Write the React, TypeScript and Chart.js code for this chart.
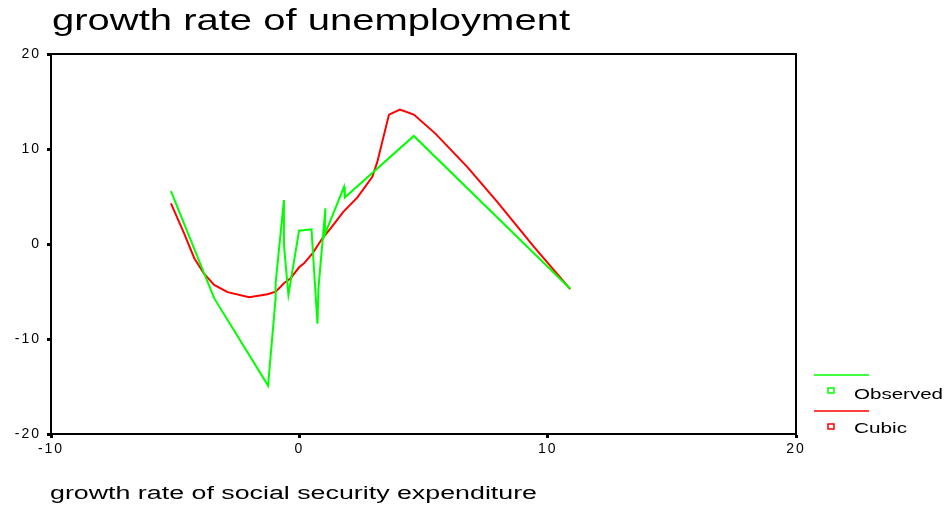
import React, { useEffect, useRef } from "react";
import { Chart, registerables } from "chart.js";

Chart.register(...registerables);

const titleText = "growth rate of unemployment";
const xAxisTitle = "growth rate of social security expenditure";
const legendLabels = ["Observed", "Cubic"];

const observedX = [-5.17, -3.43, -1.26, -0.96, -0.955, -0.62, -0.62, -0.44, -0.01, 0.49, 0.73, 0.77, 1.05, 1.02, 1.8, 1.83, 4.61, 10.91];
const observedY = [5.56, -5.7, -14.91, -5.88, -4.13, 4.62, -0.1, -5.35, 1.4, 1.54, -8.4, -4.65, 3.75, 0.95, 6.02, 4.9, 11.37, -4.72];

const cubicX = [-5.17, -4.64, -4.23, -3.83, -3.43, -2.89, -2.02, -1.28, -0.95, -0.62, -0.35, -0.01, 0.19, 0.53, 0.93, 1.26, 1.77, 2.34, 2.94, 3.14, 3.61, 4.05, 4.61, 5.48, 6.76, 7.97, 9.44, 10.91];
const cubicY = [4.27, 1.12, -1.5, -3.15, -4.3, -5.07, -5.6, -5.28, -5.01, -4.13, -3.6, -2.45, -2.03, -0.98, 0.6, 1.65, 3.39, 4.9, 7.07, 8.64, 13.62, 14.14, 13.62, 11.62, 8.12, 4.44, -0.28, -4.76];

const xTicks = [-10, 0, 10, 20];
const yTicks = [-20, -10, 0, 10, 20];

const GREEN = "#00ff00";
const RED = "#ff0000";
const FONT = '"Liberation Sans", Arial, sans-serif';

function fitText(ctx: CanvasRenderingContext2D, text: string, x: number, y: number, size: number, width: number) {
  ctx.save();
  ctx.font = `${size}px ${FONT}`;
  ctx.textBaseline = "alphabetic";
  ctx.textAlign = "left";
  ctx.fillStyle = "#000";
  const w = ctx.measureText(text).width;
  ctx.translate(x, y);
  ctx.scale(width / w, 1);
  ctx.fillText(text, 0, 0);
  ctx.restore();
}

const decorPlugin = {
  id: "decor",
  beforeDraw(chart: any) {
    chart.ctx.letterSpacing = "2px";
  },
  afterDraw(chart: any) {
    const ctx: CanvasRenderingContext2D = chart.ctx;
    const a = chart.chartArea;
    ctx.save();
    ctx.letterSpacing = "0px";
    ctx.strokeStyle = "#000";
    ctx.lineWidth = 2;
    ctx.beginPath();
    ctx.moveTo(a.left, a.top);
    ctx.lineTo(a.right, a.top);
    ctx.lineTo(a.right, a.bottom);
    ctx.stroke();

    fitText(ctx, titleText, 52, 30, 30, 518);
    fitText(ctx, xAxisTitle, 50, 499, 18, 487);

    const colors = [GREEN, RED];
    const lineYs = [375, 411];
    const textYs = [399, 433];
    const widths = [89, 53];
    for (let i = 0; i < 2; i++) {
      ctx.strokeStyle = colors[i];
      ctx.lineWidth = 1.5;
      ctx.beginPath();
      ctx.moveTo(814, lineYs[i]);
      ctx.lineTo(869, lineYs[i]);
      ctx.stroke();
      ctx.strokeRect(828, lineYs[i] + 13, 6, 5);
      fitText(ctx, legendLabels[i], 854, textYs[i], 14, widths[i]);
    }
    ctx.restore();
    ctx.letterSpacing = "0px";
  },
};

export default function App() {
  const ref = useRef<HTMLCanvasElement | null>(null);
  useEffect(() => {
    if (!ref.current) return;
    const chart = new Chart(ref.current, {
      type: "scatter",
      data: {
        datasets: [
          {
            label: legendLabels[0],
            data: observedX.map((x, i) => ({ x, y: observedY[i] })),
            showLine: true,
            borderColor: GREEN,
            backgroundColor: GREEN,
            borderWidth: 2,
            pointRadius: 0,
            tension: 0,
          },
          {
            label: legendLabels[1],
            data: cubicX.map((x, i) => ({ x, y: cubicY[i] })),
            showLine: true,
            borderColor: RED,
            backgroundColor: RED,
            borderWidth: 2,
            pointRadius: 0,
            tension: 0,
          },
        ],
      },
      options: {
        responsive: false,
        animation: false,
        layout: { padding: { left: 0, top: 54, right: 150, bottom: 0 } },
        plugins: { legend: { display: false }, tooltip: { enabled: false }, title: { display: false } },
        scales: {
          x: {
            type: "linear",
            min: -10,
            max: 20,
            afterBuildTicks: (s: any) => { s.ticks = xTicks.map((v) => ({ value: v })); },
            afterFit: (s: any) => { s.height = 74; },
            ticks: { color: "#000", font: { family: FONT, size: 14 }, padding: 3, maxRotation: 0 },
            grid: { drawOnChartArea: false, drawTicks: true, tickLength: 4, tickWidth: 3, tickColor: "#000" },
            border: { display: true, color: "#000", width: 2 },
          },
          y: {
            type: "linear",
            min: -20,
            max: 20,
            afterBuildTicks: (s: any) => { s.ticks = yTicks.map((v) => ({ value: v })); },
            afterFit: (s: any) => { s.width = 51; },
            ticks: { color: "#000", font: { family: FONT, size: 14 }, padding: 6 },
            grid: { drawOnChartArea: false, drawTicks: true, tickLength: 4, tickWidth: 3, tickColor: "#000" },
            border: { display: true, color: "#000", width: 2 },
          },
        },
      },
      plugins: [decorPlugin],
    } as any);
    return () => chart.destroy();
  }, []);
  return (
    <div style={{ position: "fixed", left: 0, top: 0, width: 946, height: 508, background: "#fff" }}>
      <canvas ref={ref} width={946} height={508} style={{ width: 946, height: 508, display: "block" }} />
    </div>
  );
}
